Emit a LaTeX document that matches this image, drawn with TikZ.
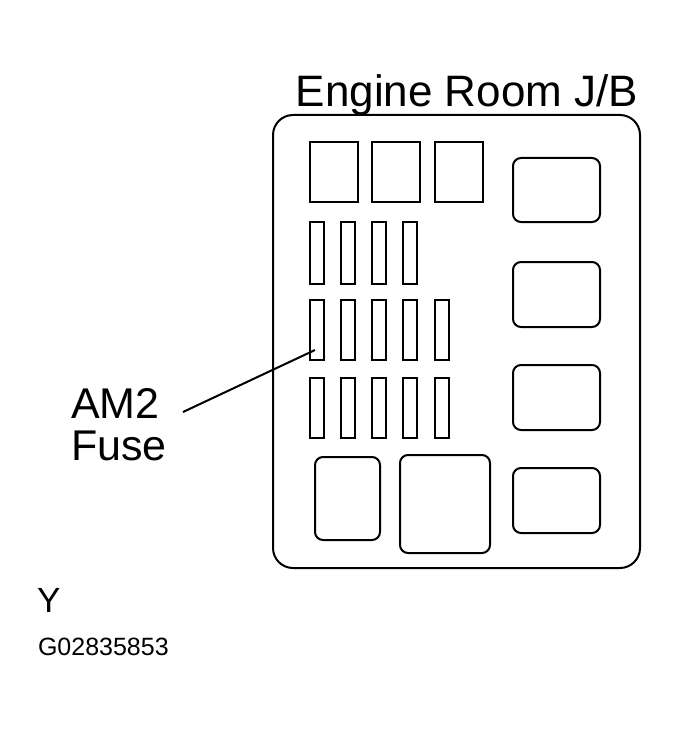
\documentclass[tikz,border=0pt]{standalone}
\usepackage{fontspec}
\setmainfont{Liberation Sans}
\usetikzlibrary{positioning}

\begin{document}
\begin{tikzpicture}[x=1pt,y=-1pt,line width=2pt,
    relay/.style={rounded corners=8pt},
    fuse/.style={}]
    \useasboundingbox (0,0) rectangle (679,730);
    \draw[rounded corners=20pt] (273,115) rectangle (640,568);
    \node[anchor=base,inner sep=0pt,font=\fontsize{44}{44}\selectfont] (title) at (467,107) {Engine Room J/B};
    % top blocks
    \draw (310,142) rectangle (358,202);
    \draw (372,142) rectangle (420,202);
    \draw (435,142) rectangle (483,202);
    % right relays
    \draw[relay] (513,158) rectangle (600,222);
    \draw[relay] (513,262) rectangle (600,327);
    \draw[relay] (513,365) rectangle (600,430);
    \draw[relay] (513,468) rectangle (600,533);
    % fuses
    \foreach \x in {310,341,372,403}
      \draw[fuse] (\x,222) rectangle ++(14,62);
    \foreach \x in {310,341,372,403,435} {
      \draw[fuse] (\x,300) rectangle ++(14,60);
      \draw[fuse] (\x,378) rectangle ++(14,60);
    }
    % bottom blocks
    \draw[relay] (315,457) rectangle (380,540);
    \draw[relay] (400,455) rectangle (490,553);
    % label and leader
    \node[align=left,anchor=base west,inner sep=0pt,font=\fontsize{43}{42}\selectfont] (am2) at (70,460) {AM2\\Fuse};
    \coordinate (lead) at (183,412);
    \coordinate (am2fuse) at (315,350);
    \draw (lead) -- (am2fuse);
    \node[anchor=base west,inner sep=0pt,font=\fontsize{35}{35}\selectfont] (y) at (36,612) {Y};
    \node[anchor=base west,inner sep=0pt,font=\fontsize{25}{25}\selectfont] (code) at (37,655) {G02835853};
\end{tikzpicture}
\end{document}
